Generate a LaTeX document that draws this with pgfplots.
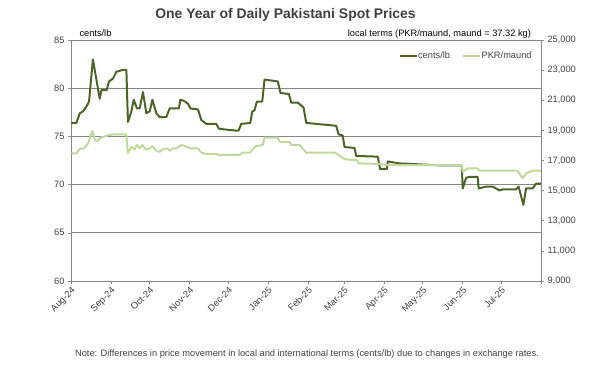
\documentclass[border=0pt]{standalone}
\usepackage{pgfplots}
\pgfplotsset{compat=1.18}
\usepackage{fontspec}
\setmainfont{Liberation Sans}
\definecolor{darkol}{HTML}{4F6228}
\definecolor{lightol}{HTML}{C3D69B}
\definecolor{axgray}{HTML}{868686}
\definecolor{txtgray}{HTML}{404040}
\begin{document}
\begin{tikzpicture}[x=1bp,y=1bp]
\path[use as bounding box] (0,0) rectangle (611,370);
\pgfplotsset{
  common/.style={
    scale only axis, width=470bp, height=241bp,
    at={(71bp,89bp)}, anchor=south west,
    xmin=0, xmax=365,
    /pgf/number format/assume math mode=true,
    tick align=outside, major tick length=3bp,
    every tick/.style={axgray, line width=0.6pt},
    axis line style={axgray, line width=0.7pt},
    tick label style={font=\fontsize{9.3}{11}\selectfont, text=txtgray},
  }
}
\begin{axis}[common,
  axis x line*=bottom, axis y line*=left,
  ymin=60, ymax=85, ytick={60,65,...,85},
  ymajorgrids, grid style={axgray, line width=0.7pt},
  xtick={0,31,61,92,122,153,184,212,243,273,304,334,365},
  xticklabels={Aug-24,Sep-24,Oct-24,Nov-24,Dec-24,Jan-25,Feb-25,Mar-25,Apr-25,May-25,Jun-25,Jul-25,},
  x tick label style={rotate=45, anchor=north east, inner sep=1.5bp},
  legend style={at={(0.981,0.935)}, anchor=east, draw=none, fill=none, inner sep=0pt,
    legend columns=2, font=\fontsize{9.3}{11}\selectfont, text=txtgray,
    nodes={inner sep=0.3bp},
    /tikz/every even column/.append style={column sep=12bp}},
  legend image code/.code={\draw[#1] (0bp,0bp) -- (17bp,0bp);},
  clip=false,
]
\addplot[darkol, line width=2pt, line join=round] coordinates {
(0.3,76.4)(4.2,76.4)(6.8,77.4)(9.3,77.6)(12,78.1)(14,78.6)(17,83.0)(22.3,78.9)
(23.6,79.8)(27.7,79.8)(29.5,80.7)(32.6,81.0)(35.2,81.7)(40.1,81.9)(43,81.9)
(44.2,76.5)(46.9,77.6)(48.7,78.8)(51.2,77.9)(53.3,77.9)(55.9,79.6)(58.5,77.4)
(61.1,77.6)(63.2,78.8)(66.3,77.4)(68.8,77.0)(74,77.0)(76.6,77.9)(83.8,77.9)
(84.9,78.8)(87.5,78.7)(90.8,78.4)(92.7,77.9)(98.6,77.8)(101.2,76.7)(105.1,76.3)
(112.8,76.3)(114.8,75.8)(120.6,75.7)(128.3,75.6)(130.1,75.6)(132.2,76.3)(139.2,76.4)
(140.8,77.6)(142.5,77.7)(144.3,78.6)(148.5,78.6)(150.3,80.9)(160.6,80.7)(162.7,79.5)
(169.2,79.4)(171,78.5)(176.2,78.5)(178.8,78.2)(180.6,78.0)(182.7,76.4)(205.9,76.1)
(207.9,75.2)(211,75.1)(212.4,73.9)(220.2,73.8)(221.5,72.97)(238.2,72.9)(240.1,71.6)
(245.2,71.6)(246,72.4)(255.1,72.2)(270.6,72.1)(286.1,72.0)(303.4,72.0)(304.2,69.6)
(306.8,70.7)(309.4,70.8)(315.8,70.8)(316.6,69.6)(322.4,69.8)(327.5,69.8)(332.7,69.4)
(335.2,69.5)(345.6,69.5)(347.6,69.8)(351.3,67.9)(353.4,69.6)(358.5,69.6)(361.1,70.1)(365,70.1)
};
\addlegendentry{cents/lb}
\addlegendimage{lightol, line width=2pt}
\addlegendentry{PKR/maund}
\node[anchor=base west, font=\fontsize{9.3}{11}\selectfont, text=black, inner sep=0pt, yshift=3bp]
  at (rel axis cs:0.0177,1) {cents/lb};
\node[anchor=base east, font=\fontsize{9.3}{11}\selectfont, text=black, inner sep=0pt, yshift=3bp]
  at (rel axis cs:0.979,1) {local terms (PKR/maund, maund = 37.32 kg)};
\end{axis}
\begin{axis}[common,
  axis y line*=right, axis x line=none,
  ymin=9000, ymax=25000, ytick={9000,11000,...,25000},
  scaled y ticks=false,
  yticklabel style={/pgf/number format/.cd, fixed, 1000 sep={,}},
]
\addplot[lightol, line width=2pt, line join=round] coordinates {
(0.3,17480)(4.2,17480)(6.8,17760)(10.1,17810)(13.3,18140)(16.5,18960)(18.6,18360)
(20.4,18290)(23.1,18520)(29.5,18690)(33.4,18740)(41.1,18740)(43,18690)(44.2,17480)
(46.9,17920)(49.4,17740)(51.2,18030)(53.3,17810)(55.4,18030)(58,17740)(61.1,17810)
(63.2,17960)(66.3,17650)(68.8,17580)(71.4,17740)(75.3,17810)(76.6,17650)(79.2,17810)
(82,17810)(85.6,18030)(89.5,17920)(92.7,17810)(98.6,17810)(101.2,17520)(105.1,17430)
(112.8,17430)(114.8,17370)(130.9,17370)(133,17520)(139.2,17520)(140.8,17740)
(143.9,17960)(149,18030)(150.3,18520)(160.6,18520)(162,18250)(169.8,18210)(171.1,18030)
(177.5,18030)(182.7,17520)(205,17520)(212.8,17080)(221.9,17030)(223.2,16810)(240.1,16770)
(245.2,16700)(303.4,16700)(304.2,16260)(308.1,16480)(315.8,16480)(317.1,16320)
(346.8,16320)(350.7,15820)(353.4,16150)(358.5,16320)(365,16320)
};
\end{axis}
\node[font=\bfseries\fontsize{14}{16}\selectfont, text=txtgray] at (285.5,355) {One Year of Daily Pakistani Spot Prices};
\node[font=\fontsize{9.3}{11}\selectfont, text=txtgray] at (307,16) {Note: Differences in price movement in local and international terms (cents/lb) due to changes in exchange rates.};
\end{tikzpicture}
\end{document}
